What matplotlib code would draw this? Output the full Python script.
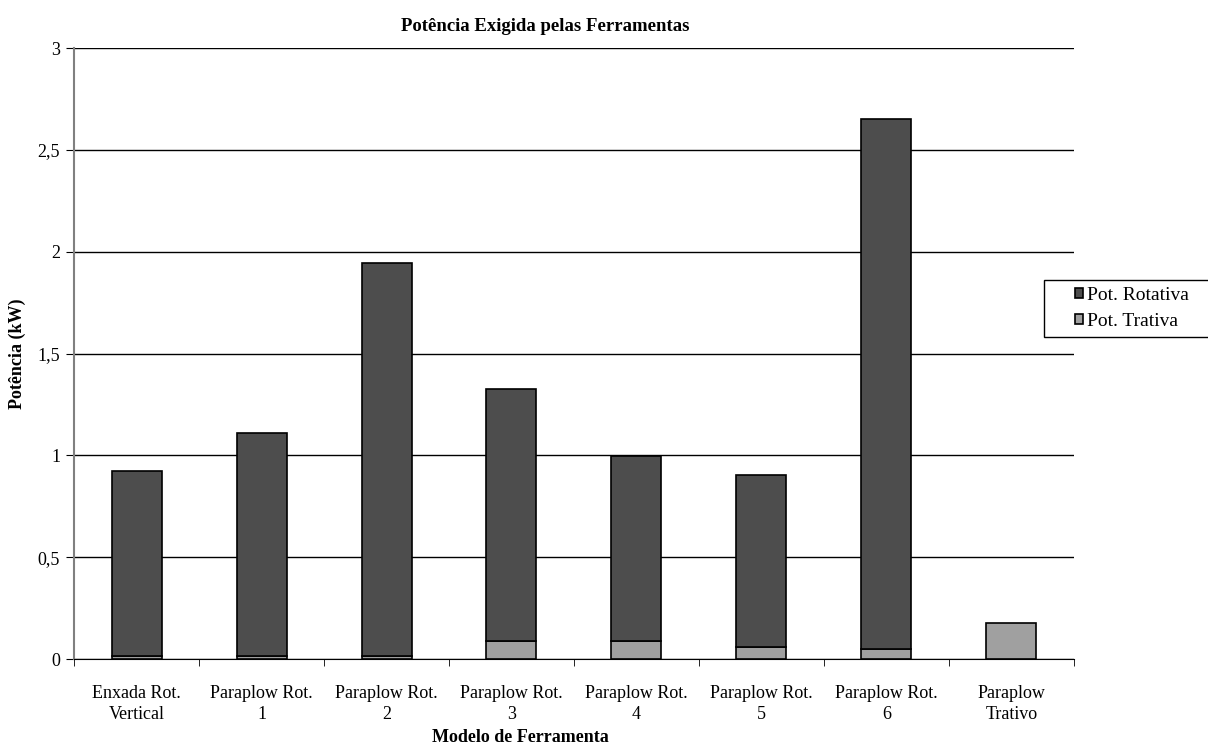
import numpy as np
import matplotlib.pyplot as plt
from matplotlib.patches import Rectangle

plt.rcParams.update({'font.size': 13, 'font.family': 'Liberation Serif'})

modelos = ["Enxada Rot.\nVertical", "Paraplow Rot.\n1", "Paraplow Rot.\n2",
           "Paraplow Rot.\n3", "Paraplow Rot.\n4", "Paraplow Rot.\n5",
           "Paraplow Rot.\n6", "Paraplow\nTrativo"]
pot_trativa = [0.015, 0.015, 0.015, 0.086, 0.086, 0.058, 0.05, 0.175]
pot_rotativa = [0.908, 1.095, 1.93, 1.241, 0.911, 0.847, 2.60, 0.0]
y_ticks = [0, 0.5, 1, 1.5, 2, 2.5, 3]


def rotulo(v):
    return ("%g" % v).replace(".", ",")


fig = plt.figure(figsize=(12.08, 7.47), dpi=100)
ax = fig.add_axes([0.0613, 0.1178, 0.8277, 0.8179])

x = np.arange(len(modelos))
cor_rot = "#4d4d4d"
cor_tra = "#a0a0a0"

ax.bar(x, pot_trativa, width=0.4, color=cor_tra, edgecolor="black",
       linewidth=1.2, label="Pot. Trativa", zorder=3)
rot = np.array(pot_rotativa)
mask = rot > 0
ax.bar(x[mask], rot[mask], width=0.4, bottom=np.array(pot_trativa)[mask],
       color=cor_rot, edgecolor="black", linewidth=1.2,
       label="Pot. Rotativa", zorder=3)

ax.set_xlim(-0.5, len(modelos) - 0.5)
ax.set_ylim(0, 3)
ax.set_yticks(y_ticks)
ax.set_yticklabels([rotulo(v) for v in y_ticks])
ax.yaxis.grid(True, color="black", linewidth=1, zorder=0)

ax.set_xticks(x)
ax.set_xticklabels(modelos, linespacing=1.25)
ax.set_xticks(np.arange(len(modelos) + 1) - 0.5, minor=True)
ax.tick_params(axis="x", which="major", length=0, pad=19)
ax.tick_params(axis="x", which="minor", length=5, direction="out")
ax.tick_params(axis="y", length=6, direction="out", color="black", pad=4)

for lado in ["top", "right"]:
    ax.spines[lado].set_visible(False)
ax.spines["left"].set_color("#808080")
ax.spines["left"].set_linewidth(1.5)
ax.spines["bottom"].set_color("black")

ax.set_xlabel("Modelo de Ferramenta", fontweight="bold")
ax.set_ylabel("Potência (kW)", fontweight="bold")
ax.xaxis.set_label_coords(0.446, -0.115)
ax.yaxis.set_label_coords(-0.048, 0.5)

fig.text(0.451, 0.964, "Potência Exigida pelas Ferramentas",
         ha="center", va="center", fontsize=13.5, fontweight="bold")

# caixa da legenda (sai pela borda direita, como no original)
fig.patches.append(Rectangle((1044 / 1208, 1 - 337 / 747), 0.2, 57 / 747,
                             transform=fig.transFigure, facecolor="white",
                             edgecolor="black", linewidth=1))
handles, labels = ax.get_legend_handles_labels()
leg = fig.legend(handles[::-1], labels[::-1], loc="center left",
                 bbox_to_anchor=(1065 / 1208, 1 - 308.5 / 747), frameon=False,
                 handlelength=0.45, handleheight=0.45, handletextpad=0.2,
                 borderpad=0, labelspacing=0.45, fontsize=14)

fig.savefig("out.png", dpi=100)
